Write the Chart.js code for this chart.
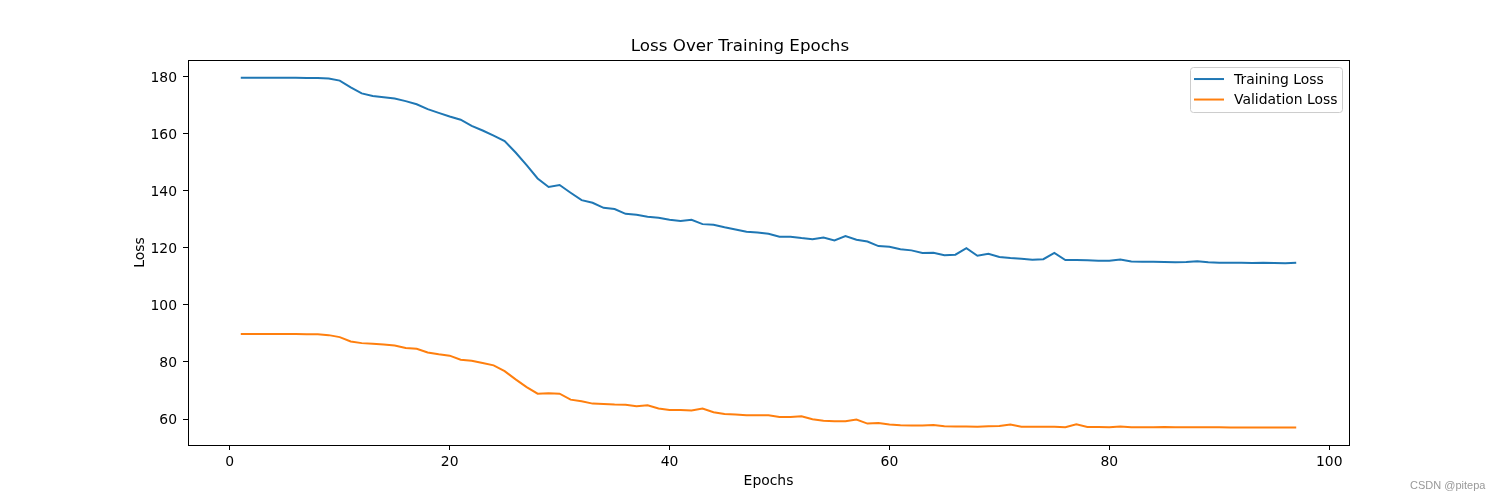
<!DOCTYPE html>
<html>
<head>
<meta charset="utf-8">
<title>Loss Over Training Epochs</title>
<script src="https://cdn.jsdelivr.net/npm/chart.js@4"></script>
<style>
  body { margin: 0; background: #fff; }
  #wrap { position: relative; width: 1500px; height: 500px; }
  #mark { position: absolute; left: 1410px; top: 479px; font: 11px 'Liberation Sans', sans-serif; color: #999; }
</style>
</head>
<body>
<div id="wrap">
  <canvas id="lossChart"></canvas>
  <div id="mark">CSDN @pitepa</div>
</div>
<script>
const epochs = [
  1, 2, 3, 4, 5, 6, 7, 8, 9, 10, 11, 12, 13, 14, 15, 16, 17, 18, 19, 20,
  21, 22, 23, 24, 25, 26, 27, 28, 29, 30, 31, 32, 33, 34, 35, 36, 37, 38, 39, 40,
  41, 42, 43, 44, 45, 46, 47, 48, 49, 50, 51, 52, 53, 54, 55, 56, 57, 58, 59, 60,
  61, 62, 63, 64, 65, 66, 67, 68, 69, 70, 71, 72, 73, 74, 75, 76, 77, 78, 79, 80,
  81, 82, 83, 84, 85, 86, 87, 88, 89, 90, 91, 92, 93, 94, 95, 96, 97
];

const trainLoss = [
  179.6, 179.6, 179.6, 179.6, 179.6, 179.6, 179.5, 179.5, 179.3, 178.6,
  176.2, 174.1, 173.2, 172.8, 172.3, 171.4, 170.3, 168.6, 167.3, 166.0,
  164.9, 162.7, 161.1, 159.3, 157.4, 153.4, 149.0, 144.3, 141.3, 142.0,
  139.3, 136.7, 135.8, 134.0, 133.6, 131.9, 131.6, 130.9, 130.5, 129.8,
  129.4, 129.8, 128.3, 128.1, 127.2, 126.4, 125.6, 125.4, 124.9, 123.9,
  123.9, 123.4, 123.0, 123.6, 122.6, 124.1, 122.8, 122.2, 120.6, 120.4,
  119.5, 119.1, 118.2, 118.3, 117.4, 117.6, 119.9, 117.2, 117.9, 116.8,
  116.4, 116.2, 115.8, 116.0, 118.2, 115.7, 115.7, 115.6, 115.5, 115.5,
  115.9, 115.2, 115.1, 115.1, 115.0, 114.9, 115.0, 115.3, 114.9, 114.8,
  114.8, 114.8, 114.7, 114.8, 114.7, 114.6, 114.8
];

const valLoss = [
  89.8, 89.8, 89.8, 89.8, 89.8, 89.8, 89.7, 89.7, 89.4, 88.7,
  87.2, 86.6, 86.4, 86.1, 85.8, 84.9, 84.6, 83.3, 82.7, 82.2,
  80.8, 80.4, 79.6, 78.8, 76.8, 73.9, 71.2, 68.9, 69.0, 68.9,
  66.8, 66.2, 65.4, 65.3, 65.1, 65.0, 64.5, 64.8, 63.7, 63.2,
  63.2, 63.0, 63.7, 62.4, 61.8, 61.6, 61.3, 61.3, 61.3, 60.7,
  60.7, 61.0, 59.9, 59.4, 59.2, 59.2, 59.8, 58.4, 58.6, 58.1,
  57.8, 57.7, 57.7, 57.9, 57.5, 57.4, 57.4, 57.3, 57.5, 57.6,
  58.1, 57.3, 57.3, 57.3, 57.3, 57.1, 58.2, 57.2, 57.2, 57.1,
  57.4, 57.1, 57.1, 57.1, 57.2, 57.1, 57.1, 57.1, 57.1, 57.1,
  57.0, 57.0, 57.0, 57.0, 57.0, 57.0, 57.0
];

const xTicks = [0, 20, 40, 60, 80, 100];
const yTicks = [60, 80, 100, 120, 140, 160, 180];

Chart.defaults.font.family = "'DejaVu Sans', sans-serif";
Chart.defaults.font.size = 13.9;
Chart.defaults.color = '#000';

// axes frame like matplotlib spines
const frame = {
  id: 'frame',
  afterDatasetsDraw(chart) {
    const { ctx, chartArea: a } = chart;
    ctx.save();
    ctx.strokeStyle = '#000';
    ctx.lineWidth = 1;
    ctx.strokeRect(Math.round(a.left) + 0.5, Math.round(a.top) + 0.5,
      Math.round(a.right - a.left), Math.round(a.bottom - a.top));
    ctx.restore();
  }
};

// legend box in the upper right corner of the plot
const boxLegend = {
  id: 'boxLegend',
  afterDraw(chart) {
    const { ctx, chartArea: a } = chart;
    const w = 152, h = 45;
    const x = a.right - 7 - w, y = a.top + 7;
    ctx.save();
    ctx.beginPath();
    ctx.roundRect(x + 0.5, y + 0.5, w, h, 3);
    ctx.fillStyle = 'rgba(255,255,255,0.8)';
    ctx.fill();
    ctx.strokeStyle = '#cccccc';
    ctx.lineWidth = 1;
    ctx.stroke();
    ctx.font = "13.9px 'DejaVu Sans', sans-serif";
    ctx.textBaseline = 'middle';
    ctx.fillStyle = '#000';
    chart.data.datasets.forEach((ds, i) => {
      const ly = y + 12 + i * 20.5;
      ctx.beginPath();
      ctx.moveTo(x + 4, ly);
      ctx.lineTo(x + 34, ly);
      ctx.strokeStyle = ds.borderColor;
      ctx.lineWidth = 2;
      ctx.stroke();
      ctx.fillText(ds.label, x + 44, ly + 1);
    });
    ctx.restore();
  }
};

const ctx = document.getElementById('lossChart').getContext('2d');
const lossChart = new Chart(ctx, {
  type: 'line',
  data: {
    datasets: [
      {
        label: 'Training Loss',
        data: trainLoss.map((v, i) => ({ x: epochs[i], y: v })),
        borderColor: '#1f77b4',
        borderWidth: 2,
        pointRadius: 0,
        tension: 0,
      },
      {
        label: 'Validation Loss',
        data: valLoss.map((v, i) => ({ x: epochs[i], y: v })),
        borderColor: '#ff7f0e',
        borderWidth: 2,
        pointRadius: 0,
        tension: 0,
      },
    ],
  },
  options: {
    responsive: true,
    maintainAspectRatio: false,
    animation: false,
    layout: { padding: { left: 131, right: 151, top: 0, bottom: 0 } },
    plugins: {
      legend: { display: false },
      tooltip: { enabled: false },
      title: {
        display: true,
        text: 'Loss Over Training Epochs',
        font: { size: 16.7, weight: 'normal' },
        padding: { top: 37, bottom: 3 },
      },
    },
    scales: {
      x: {
        type: 'linear',
        min: -3.8,
        max: 101.8,
        afterBuildTicks: (s) => { s.ticks = xTicks.map((v) => ({ value: v })); },
        afterFit: (s) => { s.height = 55; },
        grid: { drawOnChartArea: false, tickLength: 5, color: '#000' },
        border: { color: '#000' },
        ticks: { padding: 4, maxRotation: 0 },
        title: { display: true, text: 'Epochs', padding: { top: 0, bottom: 10 } },
      },
      y: {
        type: 'linear',
        min: 50.9,
        max: 185.8,
        afterBuildTicks: (s) => { s.ticks = yTicks.map((v) => ({ value: v })); },
        afterFit: (s) => { s.width = 57; },
        grid: { drawOnChartArea: false, tickLength: 5, color: '#000' },
        border: { color: '#000' },
        ticks: { padding: 6, labelOffset: 1.5 },
        title: { display: true, text: 'Loss', padding: { top: 1, bottom: 0 } },
      },
    },
  },
  plugins: [frame, boxLegend],
});
</script>
</body>
</html>
